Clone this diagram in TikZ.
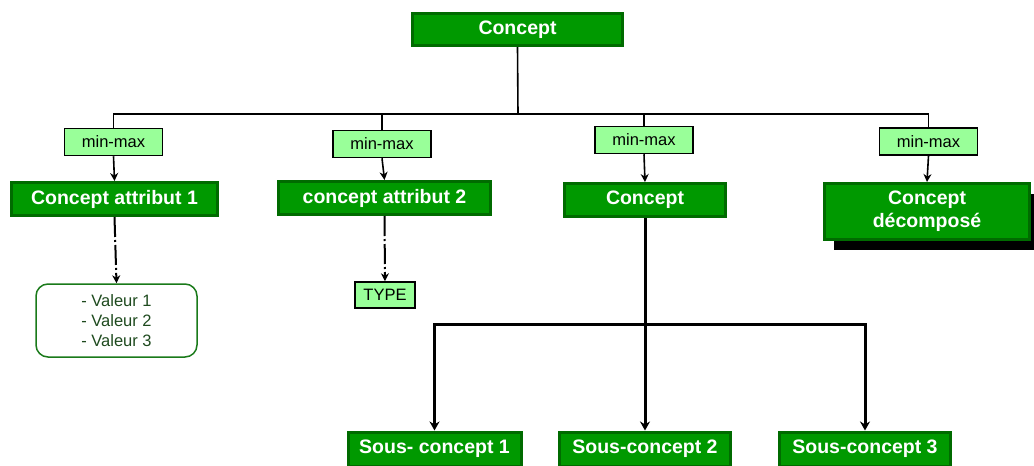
\documentclass[tikz,border=0pt]{standalone}
\usepackage{fontspec}
\setmainfont{Liberation Sans}
\usetikzlibrary{arrows.meta,shadows}
\definecolor{gfill}{HTML}{009900}
\definecolor{gborder}{HTML}{006B00}
\definecolor{lgfill}{HTML}{99FF99}
\definecolor{valtext}{HTML}{1E4A1E}
\definecolor{valborder}{HTML}{1A7A1A}
\begin{document}
\begin{tikzpicture}[x=1pt,y=-1pt,
  bigbox/.style={rectangle,draw=gborder,fill=gfill,line width=3pt,inner sep=0pt,
    text=white,font=\fontsize{19.5}{23}\selectfont\bfseries,align=center},
  mmbox/.style={rectangle,draw=black,fill=lgfill,line width=1.5pt,inner sep=0pt,
    minimum width=98pt,minimum height=27pt,font=\fontsize{16.5}{19}\selectfont},
  thinconn/.style={draw=black,line width=1.6pt},
  thinarrow/.style={thinconn,-{Stealth[length=8pt,width=8pt]}},
  dashconn/.style={draw=black,line width=2pt,dash pattern=on 20pt off 3pt on 2pt off 3pt,
    -{Stealth[length=8pt,width=8pt]}},
  thickarrow/.style={draw=black,line width=3pt,-{Stealth[length=9pt,width=10pt]}},
]
\useasboundingbox (0,0) rectangle (1034,466);

% top concept
\node[bigbox,minimum width=210pt,minimum height=32pt] (top) at (517.5,29.5) {Concept};

% min-max boxes
\node[mmbox] (mm1) at (113.5,142) {min-max};
\node[mmbox] (mm2) at (382,144) {min-max};
\node[mmbox] (mm3) at (644,140) {min-max};
\node[mmbox] (mm4) at (928.5,141.5) {min-max};

% second level
\node[bigbox,minimum width=206pt,minimum height=33pt] (ca1) at (114.5,199) {Concept attribut 1};
\node[bigbox,minimum width=212pt,minimum height=33pt] (ca2) at (384.5,198) {concept attribut 2};
\node[bigbox,minimum width=161pt,minimum height=33pt] (cmid) at (645,200) {Concept};
\node[bigbox,minimum width=205pt,minimum height=56pt,
  drop shadow={fill=black,opacity=1,shadow xshift=9pt,shadow yshift=-10pt}]
  (cdec) at (927,211.5) {Concept\\décomposé};

% values and type
\node[rectangle,rounded corners=12pt,draw=valborder,fill=white,line width=1.5pt,
  minimum width=161pt,minimum height=73pt,inner sep=0pt,text=valtext,align=center,
  font=\fontsize{16.5}{20}\selectfont] (vals) at (116.5,320.5) {- Valeur 1\\- Valeur 2\\- Valeur 3};
\node[mmbox,minimum width=60pt,minimum height=26pt] (type) at (385,295) {TYPE};

% sub-concepts
\node[bigbox,minimum width=173pt,minimum height=34pt] (sc1) at (434.5,449) {Sous- concept 1};
\node[bigbox,minimum width=171pt,minimum height=34pt] (sc2) at (645,449) {Sous-concept 2};
\node[bigbox,minimum width=171pt,minimum height=34pt] (sc3) at (865,449) {Sous-concept 3};

% top bus
\coordinate (bus) at (518,114);
\draw[thinconn] (top.south) -- (bus);
\draw[thinconn] (mm1.north) |- (bus);
\draw[thinconn] (mm2.north) |- (bus);
\draw[thinconn] (mm3.north) |- (bus);
\draw[thinconn] (mm4.north) |- (bus);

% min-max to concepts
\draw[thinarrow] (mm1.south) -- (ca1.north);
\draw[thinarrow] (mm2.south) -- (ca2.north);
\draw[thinarrow] (mm3.south) -- (cmid.north);
\draw[thinarrow] (mm4.south) -- (cdec.north);

% dash-dot links
\draw[dashconn] (ca1.south) -- (vals.north);
\draw[dashconn] (ca2.south) -- (type.north);

% lower bus
\coordinate (bus2) at (645,324);
\draw[draw=black,line width=3pt] (cmid.south) -- (bus2);
\draw[thickarrow] (bus2) -| (sc1.north);
\draw[thickarrow] (bus2) -- (sc2.north);
\draw[thickarrow] (bus2) -| (sc3.north);
\end{tikzpicture}
\end{document}
